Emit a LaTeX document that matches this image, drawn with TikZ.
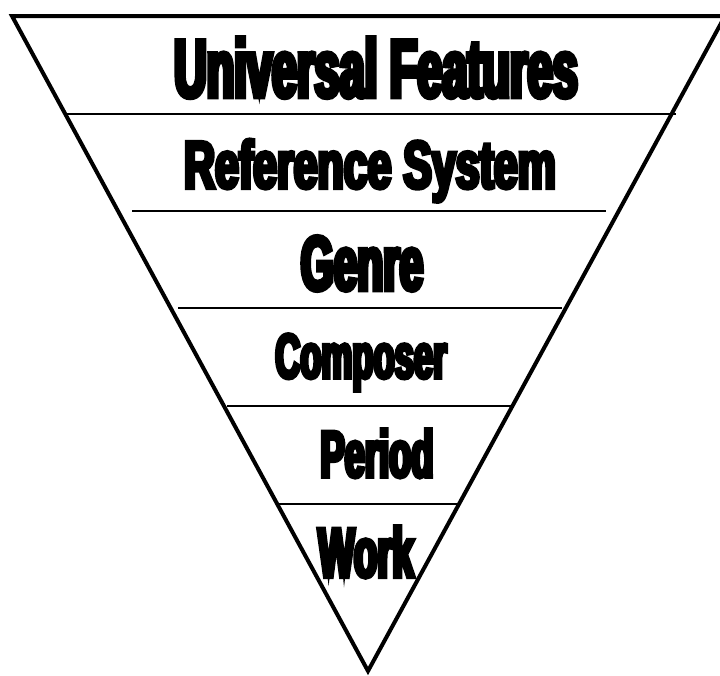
\documentclass[tikz,border=0pt]{standalone}
\usepackage{fontspec}
\newfontfamily\tierfont{Liberation Sans Bold}[FakeStretch=0.55,FakeBold=6]
\newfontfamily\tierwide{Liberation Sans Bold}[FakeStretch=0.64,FakeBold=6]
\usetikzlibrary{calc}
\tikzset{
  tier/.style={anchor=base,inner sep=0pt},
  rim/.style={line width=4pt,line join=miter},
  divider/.style={line width=1.8pt}
}

\begin{document}
\begin{tikzpicture}[x=1pt,y=-1pt]
  \useasboundingbox (0,0) rectangle (720,675);
  \clip (0,0) rectangle (720,675);

  % outline of the inverted pyramid
  \coordinate (topleft) at (12,16);
  \coordinate (topright) at (725,16);
  \coordinate (apex) at (368,671);
  \draw[rim] (topleft) -- (topright) -- (apex) -- cycle;

  % level dividers
  \foreach \y/\xl/\xr in {114/64/676,211/132/606,308/178/562,406/227/513,504/278/458}
    \draw[divider] (\xl,\y) -- (\xr,\y);

  % level labels
  \node[tier,font=\tierfont\fontsize{82}{82}\selectfont] (universal) at (376,97) {Universal Features};
  \node[tier,font=\tierwide\fontsize{67}{67}\selectfont] (reference) at (370,188) {Reference System};
  \node[tier,font=\tierfont\fontsize{77}{77}\selectfont] (genre) at (362,290) {Genre};
  \node[tier,font=\tierfont\fontsize{63}{63}\selectfont] (composer) at (361,378) {Composer};
  \node[tier,font=\tierfont\fontsize{66}{66}\selectfont] (period) at (377,477) {Period};
  \node[tier,font=\tierfont\fontsize{70}{70}\selectfont] (work) at (366,577) {Work};
\end{tikzpicture}
\end{document}
